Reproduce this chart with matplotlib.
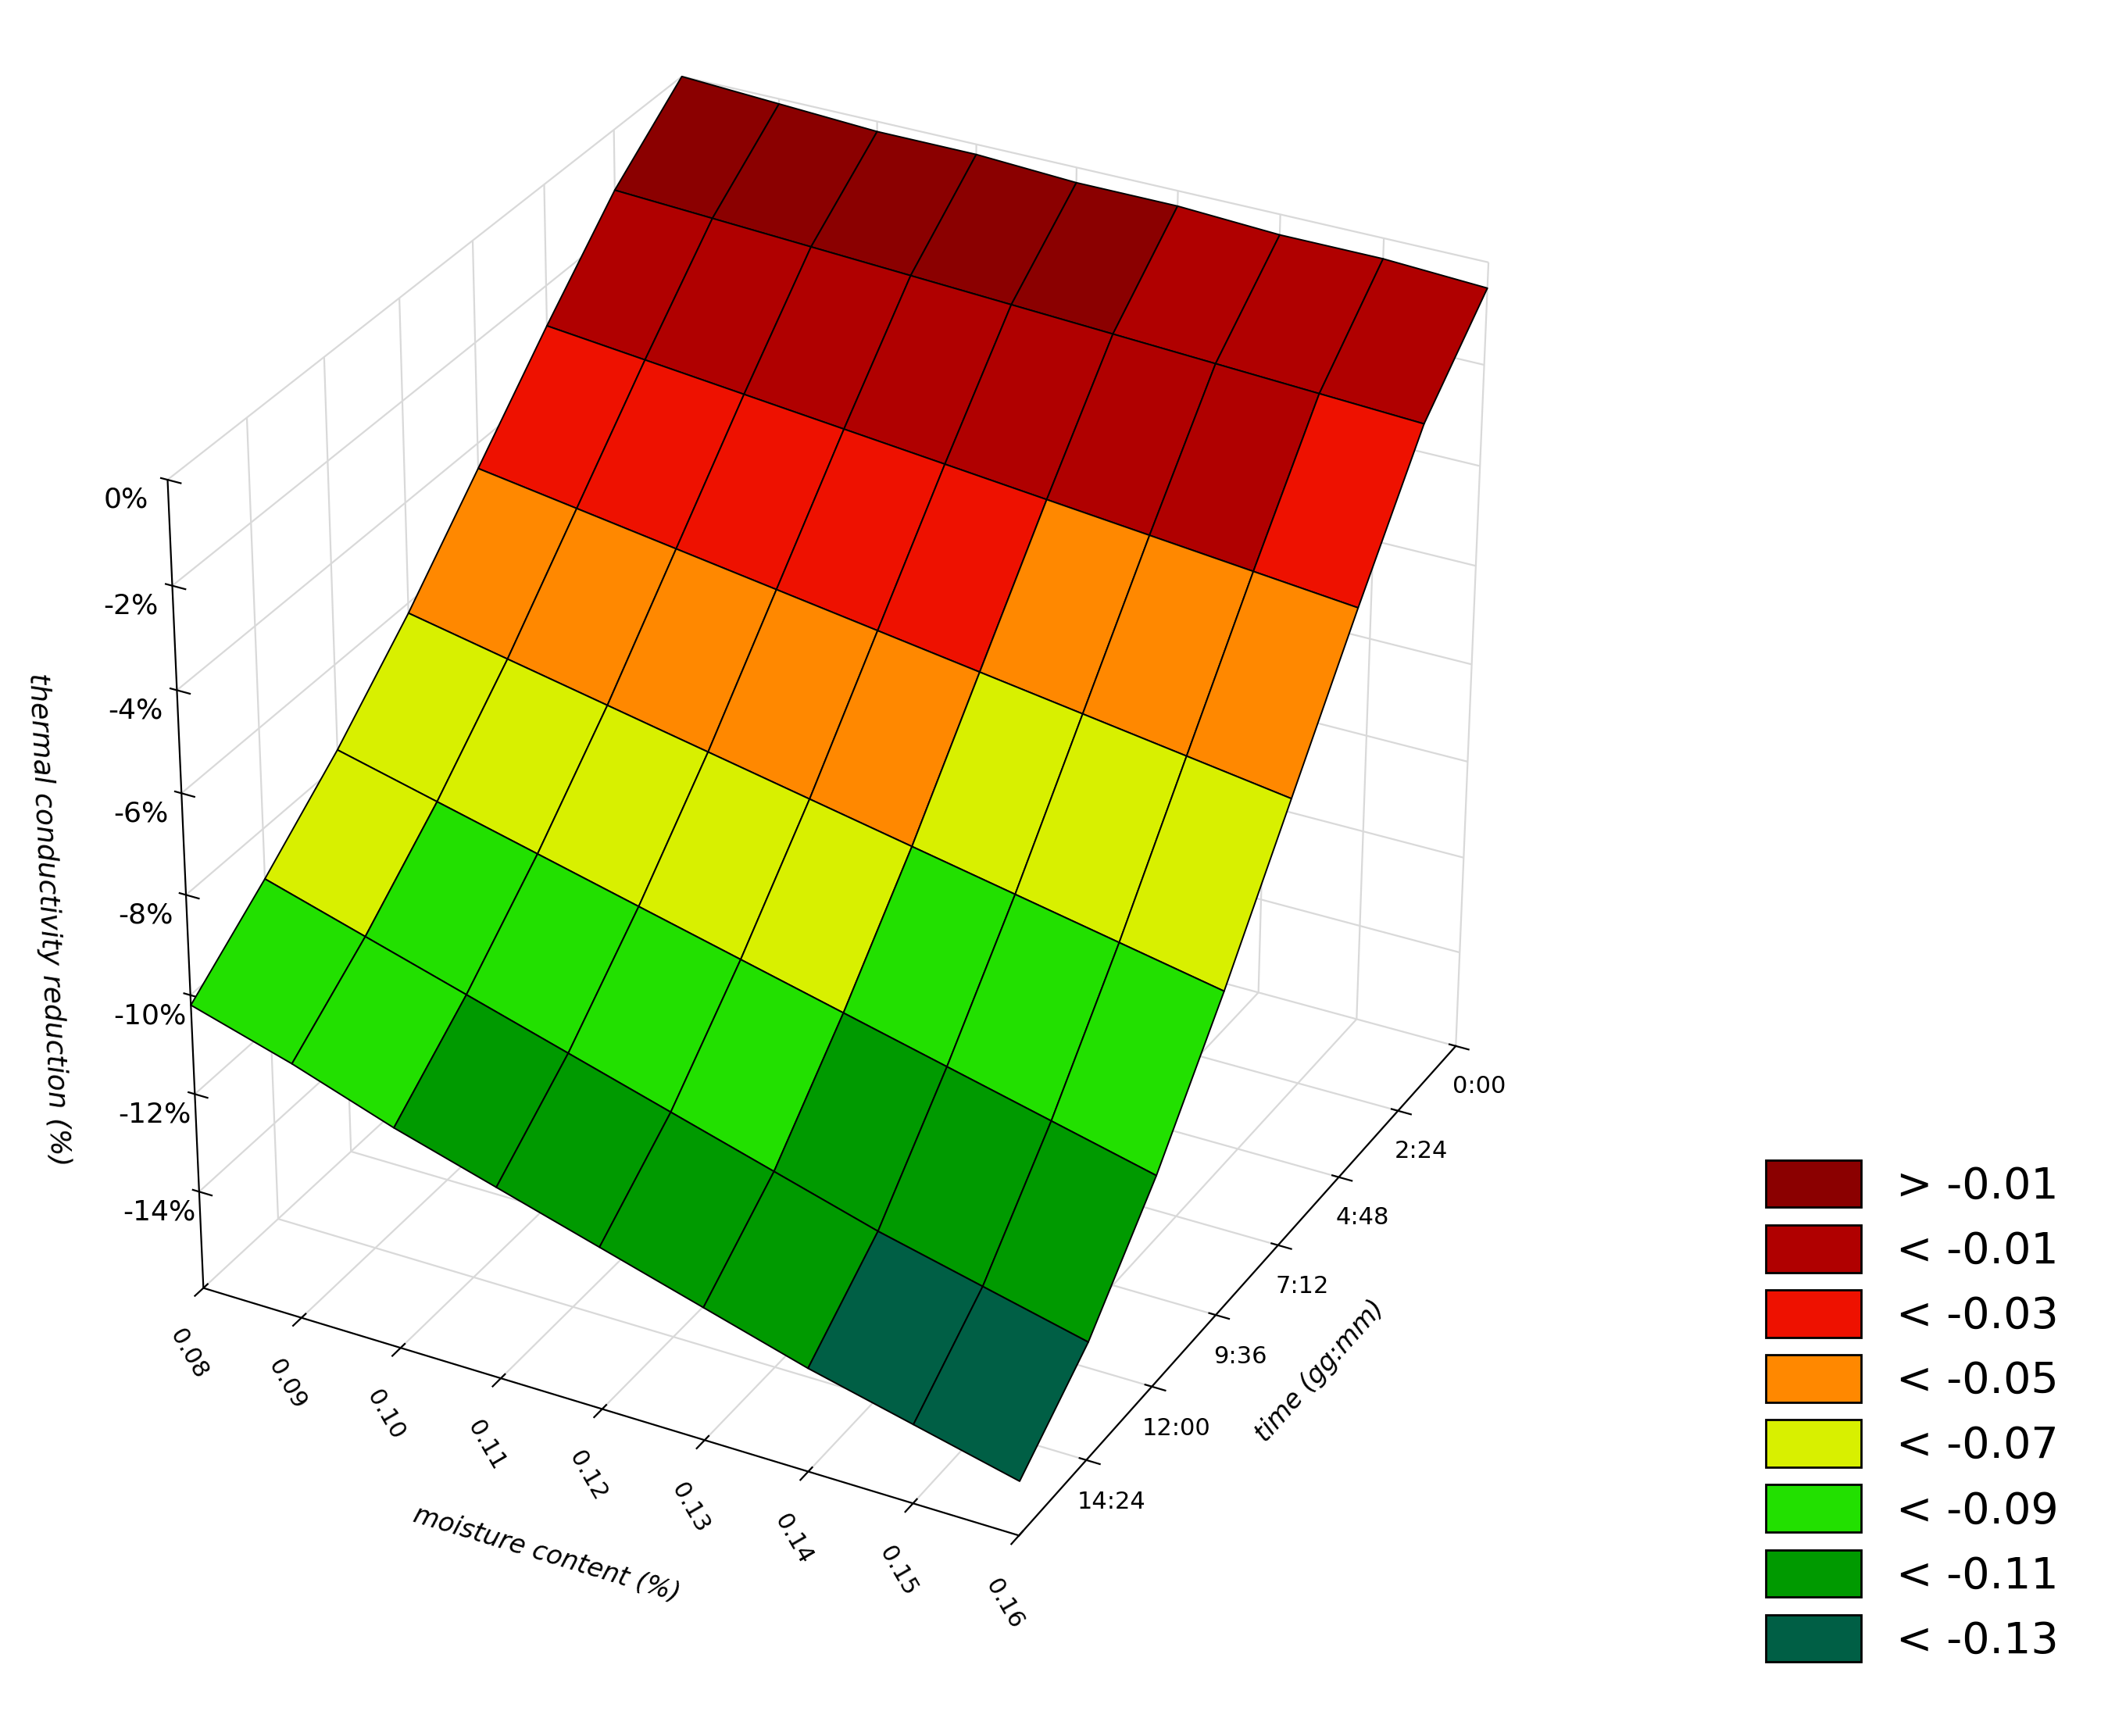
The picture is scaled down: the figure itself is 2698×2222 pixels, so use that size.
import numpy as np
import matplotlib
matplotlib.use("Agg")
import matplotlib.pyplot as plt
from matplotlib.patches import Patch
from matplotlib.colors import BoundaryNorm, ListedColormap

moisture = [0.08, 0.09, 0.10, 0.11, 0.12, 0.13, 0.14, 0.15, 0.16]
time_h = [0, 2.4, 4.8, 7.2, 9.6, 12, 14.4, 16.8]
time_labels = ["0:00", "2:24", "4:48", "7:12", "9:36", "12:00", "14:24"]
z_vals = [
    [0.000, -0.001, -0.002, -0.002, -0.003, -0.003, -0.004, -0.004, -0.005],
    [-0.012, -0.013, -0.014, -0.015, -0.016, -0.017, -0.018, -0.019, -0.020],
    [-0.028, -0.030, -0.032, -0.034, -0.036, -0.038, -0.040, -0.042, -0.044],
    [-0.045, -0.048, -0.051, -0.054, -0.057, -0.060, -0.063, -0.066, -0.069],
    [-0.062, -0.066, -0.070, -0.074, -0.078, -0.082, -0.086, -0.090, -0.094],
    [-0.077, -0.082, -0.087, -0.092, -0.097, -0.102, -0.107, -0.112, -0.117],
    [-0.090, -0.096, -0.102, -0.108, -0.114, -0.120, -0.126, -0.131, -0.136],
    [-0.102, -0.108, -0.115, -0.121, -0.127, -0.133, -0.139, -0.144, -0.149],
]
levels = [-0.13, -0.11, -0.09, -0.07, -0.05, -0.03, -0.01]
level_colors = ['#005f45', '#009a00', '#22e000', '#d8f000', '#ff8800',
                '#ee1100', '#b00000', '#8b0000']
legend_labels = ['> -0.01', '< -0.01', '< -0.03', '< -0.05', '< -0.07',
                 '< -0.09', '< -0.11', '< -0.13']

X, Y = np.meshgrid(moisture, time_h)
Z = np.array(z_vals)

cmap = ListedColormap(level_colors)
norm = BoundaryNorm([-1] + levels + [1], cmap.N)
zc = (Z[:-1, :-1] + Z[1:, :-1] + Z[:-1, 1:] + Z[1:, 1:]) / 4
fc = cmap(norm(zc))

fig = plt.figure(figsize=(13.49, 11.11), dpi=200)
ax = fig.add_axes([0.0, 0.08, 0.78, 0.92], projection='3d')
ax.plot_surface(X, Y, Z, facecolors=fc, edgecolor='black', linewidth=0.7,
                shade=False, antialiased=True)
ax.set_xlim(0.08, 0.16)
ax.set_ylim(16.8, 0)
ax.set_zlim(-0.16, 0.0)
ax.set_xticks(moisture)
ax.set_xticklabels([f"{m:.2f}" for m in moisture], fontsize=11, rotation=-60)
ax.set_yticks(time_h[:-1])
ax.set_yticklabels(time_labels, fontsize=11)
zt = [0, -0.02, -0.04, -0.06, -0.08, -0.10, -0.12, -0.14]
ax.set_zticks(zt)
ax.set_zticklabels([f"{int(round(v*100))}%" for v in zt], fontsize=13)
ax.zaxis.set_ticks_position('upper')
ax.zaxis.set_label_position('upper')
ax.set_xlabel("moisture content (%)", fontsize=12, style='italic', labelpad=22)
ax.set_ylabel("time (gg:mm)", fontsize=12, style='italic', labelpad=14)
ax.set_zlabel("thermal conductivity reduction (%)", fontsize=13, style='italic', labelpad=18)
for a in (ax.xaxis, ax.yaxis, ax.zaxis):
    a.set_pane_color((1, 1, 1, 0))
    a._axinfo['grid']['color'] = (0.85, 0.85, 0.85, 1)
ax.view_init(elev=30, azim=-62)
ax.set_box_aspect((1, 1.1, 1.0))

handles = [Patch(facecolor=c, edgecolor='black') for c in level_colors[::-1]]
fig.legend(handles, legend_labels, loc='lower right', bbox_to_anchor=(0.995, 0.02),
           fontsize=20, frameon=False, handlelength=2.2, handleheight=1.3,
           labelspacing=0.4)
fig.savefig("out.png", dpi=200, facecolor='white')
